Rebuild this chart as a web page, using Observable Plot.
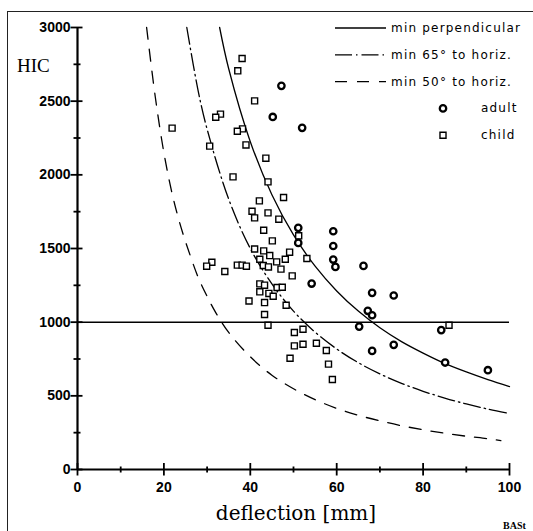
<!DOCTYPE html>
<html><head><meta charset="utf-8">
<script src="https://cdn.jsdelivr.net/npm/d3@7"></script>
<script src="https://cdn.jsdelivr.net/npm/@observablehq/plot@0.6"></script>
<style>
html,body{margin:0;padding:0;background:#fff;}
#chart{position:relative;width:533px;height:531px;overflow:hidden;}
#frame{position:absolute;left:7px;top:11px;width:540px;height:540px;border-left:1.6px solid #222;border-top:1.6px solid #222;pointer-events:none;}
</style></head><body><div id="chart"><div id="frame"></div></div>
<script>
// ---- data ----
const childX = [21.9,38.1,37.1,41.0,33.1,32.0,38.2,37.0,30.6,39.0,43.6,36.0,44.1,47.7,42.1,40.4,44.1,41.0,46.6,43.1,51.2,45.1,41.0,43.1,49.1,44.5,42.2,48.1,53.1,46.1,31.1,29.9,37.0,38.1,39.1,43.0,44.2,47.1,34.1,49.7,42.2,43.3,46.2,47.4,42.2,44.3,45.3,39.7,43.3,48.3,43.3,44.1,50.2,52.2,50.2,52.2,55.3,57.6,49.2,58.1,59.0,86.0];
const childY = [2317,2790,2706,2502,2412,2391,2312,2296,2195,2203,2113,1986,1952,1846,1823,1753,1742,1708,1699,1624,1586,1552,1497,1484,1475,1452,1427,1427,1432,1409,1407,1380,1387,1387,1380,1385,1375,1360,1344,1314,1260,1251,1235,1237,1206,1195,1176,1144,1133,1115,1052,979,930,952,839,850,857,808,755,715,611,979];
const adultX = [47.2,45.2,52.0,51.1,51.1,54.2,59.2,59.2,59.2,59.7,66.2,68.2,73.2,67.2,68.2,65.2,68.2,73.2,84.2,85.1,95.0];
const adultY = [2604,2393,2319,1640,1538,1262,1617,1517,1425,1375,1382,1199,1181,1077,1047,970,805,846,946,726,674];

const perpX = [32.9,35,40,45,50,55,60,65,70,75,80,85,90,95,100];
const perpY = [3000,2720,2225,1865,1592,1380,1212,1075,962,868,790,720,662,610,563];
const h65X = [25.3,28,30,35,40,45,50,55,60,65,70,75,80,85,90,95,100];
const h65Y = [3000,2560,2310,1835,1500,1260,1075,932,818,725,649,585,531,485,445,410,380];
const h50X = [16,18,20,22,24,26,28,30,32,35,40,45,50,55,60,65,70,75,80,85,90,95,98];
const h50Y = [3000,2530,2150,1860,1640,1460,1300,1175,1065,930,765,640,548,474,415,368,330,297,270,246,226,209,196];

const threshold = [1000];
const xTicks = [0,20,40,60,80,100];
const xMinor = [10,30,50,70,90];
const yTicks = [0,500,1000,1500,2000,2500,3000];
const yMinor = [250,750,1250,1750,2250,2750];

const legendLabels = ["min perpendicular","min 65\u00b0 to horiz.","min 50\u00b0 to horiz.","adult","child"];
const yTitle = "HIC";
const xTitle = "deflection [mm]";
const credit = "BASt";

// ---- build tables ----
const child = childX.map((x,i)=>({x, y: childY[i]}));
const adult = adultX.map((x,i)=>({x, y: adultY[i]}));
const perp = perpX.map((x,i)=>({x, y: perpY[i]}));
const h65 = h65X.map((x,i)=>({x, y: h65Y[i]}));
const h50 = h50X.map((x,i)=>({x, y: h50Y[i]}));

const hTick = (l, r) => ({draw(ctx){ ctx.moveTo(-l,0); ctx.lineTo(r,0); }});
const vTick = (u, d) => ({draw(ctx){ ctx.moveTo(0,-u); ctx.lineTo(0,d); }});

const dashDot = "17,4,1.5,4";
const dashed = "12,10";
const tickFont = {fontFamily: "Liberation Sans, Arial, sans-serif", fontSize: 14, fontWeight: "bold"};

const plot = Plot.plot({
  width: 533, height: 531,
  marginLeft: 77, marginRight: 24, marginTop: 27, marginBottom: 62,
  x: {domain: [0,100], axis: null},
  y: {domain: [0,3000], axis: null},
  style: {background: "transparent", color: "black", overflow: "visible"},
  marks: [
    Plot.ruleY(threshold, {x1: 0, x2: 100, stroke: "black", strokeWidth: 1.5}),
    Plot.line(perp, {x: "x", y: "y", curve: "catmull-rom", stroke: "black", strokeWidth: 1.3}),
    Plot.line(h65, {x: "x", y: "y", curve: "catmull-rom", stroke: "black", strokeWidth: 1.3, strokeDasharray: dashDot}),
    Plot.line(h50, {x: "x", y: "y", curve: "catmull-rom", stroke: "black", strokeWidth: 1.3, strokeDasharray: dashed}),
    Plot.dot(child, {x: "x", y: "y", symbol: "square", r: 3.4, stroke: "black", strokeWidth: 1.4, fill: "white"}),
    Plot.dot(adult, {x: "x", y: "y", symbol: "circle", r: 3.2, stroke: "black", strokeWidth: 2.3, fill: "white"}),
    // axes lines
    Plot.ruleX([0], {y1: 0, y2: 3000, stroke: "black", strokeWidth: 2.2}),
    Plot.ruleY([0], {x1: 0, x2: 100, stroke: "black", strokeWidth: 2.2}),
    // y ticks
    Plot.dot(yTicks, {x: () => 0, y: d => d, symbol: hTick(7,5), stroke: "black", strokeWidth: 1.8, fill: "none"}),
    Plot.dot(yMinor, {x: () => 0, y: d => d, symbol: hTick(4,3), stroke: "black", strokeWidth: 1.8, fill: "none"}),
    Plot.text(yTicks, {x: () => 0, y: d => d, text: d => String(d), dx: -7, textAnchor: "end", ...tickFont}),
    // x ticks
    Plot.dot(xTicks, {x: d => d, y: () => 0, symbol: vTick(6.5,6), stroke: "black", strokeWidth: 1.8, fill: "none"}),
    Plot.dot(xMinor, {x: d => d, y: () => 0, symbol: vTick(3,3), stroke: "black", strokeWidth: 1.8, fill: "none"}),
    Plot.text(xTicks, {x: d => d, y: () => 0, text: d => String(d), dy: 18, ...tickFont})
  ]
});
document.getElementById("chart").appendChild(plot);

const svg = d3.select(plot);
// titles
svg.append("text").attr("x",17).attr("y",72).attr("text-anchor","start").attr("font-family","Liberation Serif, Times New Roman, serif").attr("font-size",19).attr("fill","black").text(yTitle);
svg.append("text").attr("x",296).attr("y",520).attr("text-anchor","middle").attr("font-family","DejaVu Serif, serif").attr("font-size",20).attr("fill","black").text(xTitle);
svg.append("text").attr("x",503).attr("y",529).attr("text-anchor","start").attr("font-family","Liberation Serif, serif").attr("font-weight","bold").attr("font-size",10).attr("fill","black").text(credit);

// legend
const lg = svg.append("g").attr("font-family","DejaVu Sans, sans-serif").attr("font-size",12).attr("text-anchor","start").attr("fill","black");
const rowY = i => 28 + i*26.8;
const styles = [null, dashDot, dashed];
legendLabels.forEach((lab, i) => {
  const y = rowY(i);
  if (i < 3) {
    const ln = lg.append("line").attr("x1",335).attr("x2",386).attr("y1",y).attr("y2",y).attr("stroke","black").attr("stroke-width",1.3);
    if (styles[i]) ln.attr("stroke-dasharray", styles[i]);
    lg.append("text").attr("x",391).attr("y",y+4).attr("text-anchor","start").attr("letter-spacing","1.2px").text(lab);
  } else {
    const sym = i === 3 ? d3.symbolCircle : d3.symbolSquare;
    const size = i === 3 ? Math.PI*3.2*3.2 : Math.PI*3.4*3.4;
    lg.append("path").attr("d", d3.symbol(sym, size)()).attr("transform",`translate(443,${y})`)
      .attr("fill","white").attr("stroke","black").attr("stroke-width", i === 3 ? 2.3 : 1.4);
    lg.append("text").attr("x",481).attr("y",y+4).attr("text-anchor","start").attr("letter-spacing","1.2px").text(lab);
  }
});
</script>
</body></html>
